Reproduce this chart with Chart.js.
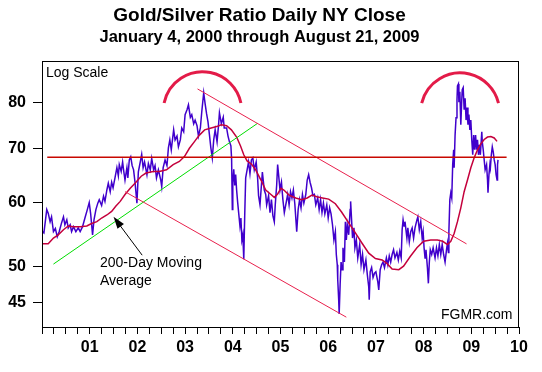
<!DOCTYPE html>
<html><head><meta charset="utf-8">
<script src="https://cdn.jsdelivr.net/npm/chart.js@4.4.1/dist/chart.umd.min.js"></script>
<style>html,body{margin:0;padding:0;background:#fff}</style>
</head><body>
<canvas id="c" width="542" height="372"></canvas>
<script>
// ---- Gold/Silver ratio, daily NY close, decimal years ----
const ratioYears = [
 2000.01,2000.04,2000.10,2000.13,2000.17,2000.20,2000.24,2000.28,2000.32,2000.36,2000.41,2000.45,2000.48,2000.52,2000.55,2000.59,2000.62,2000.66,2000.71,2000.76,2000.80,2000.85,2000.90,2000.95,2000.99,
 2001.02,2001.06,2001.09,2001.13,2001.17,2001.20,2001.25,2001.29,2001.32,2001.36,2001.39,2001.43,2001.46,2001.49,2001.53,2001.57,2001.60,2001.62,2001.66,2001.69,2001.71,2001.74,2001.78,2001.80,2001.83,2001.86,2001.89,2001.92,2001.95,2001.99,
 2002.02,2002.06,2002.09,2002.12,2002.15,2002.20,2002.23,2002.27,2002.30,2002.34,2002.37,2002.40,2002.44,2002.49,2002.51,2002.54,2002.58,2002.62,2002.65,2002.68,2002.71,2002.76,2002.79,2002.83,2002.86,2002.90,2002.93,2002.97,
 2003.00,2003.04,2003.07,2003.11,2003.14,2003.18,2003.21,2003.25,2003.28,2003.32,2003.35,2003.39,2003.42,2003.45,2003.48,2003.51,2003.54,2003.57,2003.60,2003.63,2003.67,2003.70,2003.72,2003.76,2003.80,2003.82,2003.87,2003.90,2003.93,2003.96,2003.975,2003.99,
 2004.00,2004.02,2004.04,2004.06,2004.08,2004.10,2004.12,2004.15,2004.17,2004.19,2004.21,2004.23,2004.25,2004.27,2004.30,2004.33,2004.36,2004.39,2004.42,2004.45,2004.49,2004.52,2004.54,2004.57,2004.60,2004.62,2004.66,2004.69,2004.71,2004.75,2004.78,2004.81,2004.84,2004.87,2004.89,2004.92,2004.94,2004.96,2004.99,
 2005.02,2005.05,2005.08,2005.11,2005.15,2005.18,2005.21,2005.24,2005.27,2005.30,2005.34,2005.37,2005.40,2005.43,2005.46,2005.49,2005.53,2005.56,2005.59,2005.62,2005.65,2005.68,2005.71,2005.74,2005.78,2005.81,2005.84,2005.87,2005.90,2005.93,2005.97,
 2006.00,2006.03,2006.06,2006.09,2006.12,2006.15,2006.17,2006.19,2006.20,2006.22,2006.23,2006.25,2006.27,2006.29,2006.31,2006.34,2006.36,2006.38,2006.40,2006.43,2006.46,2006.47,2006.49,2006.51,2006.54,2006.56,2006.59,2006.62,2006.66,2006.69,2006.72,2006.75,2006.79,2006.82,2006.85,2006.86,2006.88,2006.91,2006.94,2006.97,
 2007.00,2007.04,2007.06,2007.09,2007.12,2007.15,2007.18,2007.22,2007.25,2007.28,2007.31,2007.34,2007.37,2007.40,2007.44,2007.47,2007.50,2007.53,2007.55,2007.57,2007.59,2007.61,2007.65,2007.67,2007.70,2007.73,2007.76,2007.79,2007.82,2007.86,2007.88,2007.91,2007.94,2007.97,2007.99,
 2008.01,2008.03,2008.05,2008.08,2008.10,2008.12,2008.14,2008.17,2008.20,2008.24,2008.27,2008.30,2008.33,2008.36,2008.39,2008.42,2008.45,2008.48,2008.50,2008.52,2008.53,2008.55,2008.57,2008.59,2008.61,2008.63,2008.64,2008.66,2008.68,2008.70,2008.71,2008.73,2008.74,2008.76,2008.78,2008.80,2008.81,2008.83,2008.85,2008.87,2008.89,2008.91,2008.93,2008.95,2008.97,2008.99,
 2009.01,2009.03,2009.05,2009.07,2009.09,2009.11,2009.13,2009.15,2009.17,2009.19,2009.22,2009.23,2009.25,2009.27,2009.29,2009.32,2009.34,2009.35,2009.37,2009.39,2009.40,2009.42,2009.44,2009.46,2009.48,2009.50,2009.52,2009.54,2009.55,2009.56
];
const ratioValues = [
 55.2,55.0,58.8,58.2,56.8,57.6,55.2,55.7,54.4,55.2,56.6,57.6,56.3,57.1,55.8,56.3,55.2,56.0,55.2,55.8,55.2,56.0,57.4,58.8,60.0,
 58.1,54.7,57.1,58.8,59.9,60.5,59.5,61.1,60.2,62.2,63.4,61.9,63.6,62.6,64.4,66.3,64.8,66.9,65.6,67.4,65.9,64.0,66.3,64.4,67.8,68.4,66.7,65.9,63.6,59.9,
 65.5,67.4,68.9,66.3,67.4,65.0,67.1,65.9,68.1,65.9,66.7,64.4,65.9,64.0,62.8,66.3,67.8,66.7,70.2,71.8,69.8,73.9,71.8,72.6,70.4,71.8,74.3,73.5,
 77.2,78.3,79.4,76.6,77.2,75.2,76.0,74.8,72.6,74.3,77.9,82.2,79.6,77.4,75.6,72.9,70.2,68.2,71.8,73.9,71.4,74.8,77.6,75.2,76.6,74.3,74.3,72.6,71.4,70.6,68.0,58.8,
 63.5,66.0,63.0,65.0,62.2,60.2,58.5,56.1,57.4,53.9,54.7,51.0,57.9,64.4,65.9,67.4,65.2,67.8,68.2,65.9,67.4,64.4,61.2,59.6,63.1,65.5,62.2,61.4,59.6,61.2,58.3,60.5,57.8,56.8,59.6,63.1,66.9,65.0,62.2,
 63.6,60.5,58.3,59.6,61.4,59.6,61.9,60.8,62.2,59.8,55.2,58.8,60.5,59.1,61.4,59.9,61.4,64.0,65.0,63.6,62.6,61.2,61.4,59.6,60.8,58.8,60.5,58.3,59.9,58.1,59.6,
 57.4,59.1,58.1,56.3,53.9,55.2,51.7,50.2,48.1,45.4,43.6,47.4,50.6,49.5,52.7,50.6,56.8,53.9,56.3,54.7,58.8,60.2,57.1,54.2,55.8,52.7,53.9,51.2,53.2,50.2,51.7,49.5,50.9,48.8,47.1,45.4,49.2,49.8,48.4,49.0,
 49.2,47.8,46.7,49.5,50.2,50.6,49.8,51.2,50.2,51.5,50.6,51.7,52.4,51.2,52.0,50.9,52.2,51.2,55.5,57.1,56.1,56.8,54.2,55.8,53.6,55.2,55.8,54.2,55.8,57.1,57.6,55.5,56.8,54.2,55.2,
 52.7,51.2,52.4,49.8,47.6,50.6,52.4,51.7,52.7,51.2,52.7,51.5,53.2,51.7,53.2,51.7,50.6,52.4,53.4,52.0,55.2,60.5,61.7,60.8,66.9,69.8,66.3,72.8,76.5,80.5,83.8,84.3,80.0,82.4,75.0,80.5,82.9,83.4,78.3,80.9,76.0,78.8,75.0,77.2,73.9,76.0,
 71.8,68.8,72.8,69.8,72.8,69.8,71.8,68.8,70.8,68.8,73.5,71.4,69.8,67.8,65.9,66.9,64.0,61.7,65.0,66.9,66.3,68.8,70.4,69.4,67.8,66.9,65.0,64.0,66.9,67.8
];
// ---- 200-day moving average ----
const maYears = [
 2000.01,2000.13,2000.24,2000.34,2000.45,2000.55,2000.66,2000.80,2000.94,
 2001.04,2001.15,2001.25,2001.36,2001.46,2001.55,2001.64,2001.74,2001.85,2001.95,
 2002.08,2002.18,2002.33,2002.46,2002.61,2002.75,2002.88,2002.99,
 2003.09,2003.20,2003.30,2003.41,2003.51,2003.66,2003.76,2003.87,2003.97,
 2004.08,2004.16,2004.23,2004.30,2004.39,2004.48,2004.59,2004.69,2004.80,2004.87,2004.94,
 2005.01,2005.07,2005.18,2005.32,2005.44,2005.56,2005.66,2005.76,2005.88,
 2006.01,2006.15,2006.28,2006.43,2006.57,2006.71,2006.85,2006.99,
 2007.13,2007.23,2007.34,2007.48,2007.58,2007.72,2007.86,
 2008.00,2008.15,2008.29,2008.40,2008.50,2008.57,2008.64,2008.71,2008.78,2008.85,2008.92,2008.99,
 2009.06,2009.13,2009.20,2009.27,2009.34,2009.41,2009.48,2009.54
];
const maValues = [
 53.3,53.3,54.2,54.7,55.5,56.1,56.0,56.0,56.1,
 56.5,56.8,57.4,57.9,58.5,59.4,60.2,61.4,62.5,63.4,
 64.7,65.3,65.6,65.6,65.9,66.9,67.5,68.5,
 70.1,71.5,72.8,73.9,74.2,74.6,75.0,74.8,73.9,
 72.4,70.6,68.8,67.6,67.0,65.9,64.0,62.2,61.4,60.9,61.5,
 62.5,62.2,61.3,60.8,60.5,60.8,61.3,61.0,60.8,
 60.6,59.8,58.4,56.6,55.0,53.4,51.9,51.1,
 50.9,50.4,49.6,49.5,50.0,51.4,52.7,
 53.7,53.9,53.9,53.7,53.2,53.7,54.9,56.8,59.1,61.9,64.0,66.3,
 68.2,69.8,71.0,71.9,72.4,72.5,72.2,71.5
];
// ---- trend lines (year, ratio) ----
const supportYears = [2000.24, 2004.52], supportValues = [50.3, 75.3];
const upperYears   = [2003.26, 2008.90], upperValues   = [83.1, 53.3];
const lowerYears   = [2001.74, 2006.38], lowerValues   = [61.9, 43.2];
const levelYears   = [2000.11, 2009.74], levelValues   = [68.3, 68.3];
// ---- axes ----
const yTicks = [45, 50, 60, 70, 80];
const xTickYears  = [2001,2002,2003,2004,2005,2006,2007,2008,2009,2010];
const xTickLabels = ['01','02','03','04','05','06','07','08','09','10'];
// ---- annotations (year / ratio anchored) ----
const arcSpans = [[2002.56, 2004.17], [2007.96, 2009.57]];
const arcBase = [79.8, 79.8], arcApex = [87.3, 87.0];
const arrowTail = [2002.10, 51.6], arrowTip = [2001.50, 57.6];

const FONT = '"Liberation Sans", Arial, Helvetica, sans-serif';
const pts = (xs, ys) => xs.map((x, i) => ({x, y: ys[i]}));
const quarterTicks = [];
for (let i = 0; i <= 40; i++) quarterTicks.push({value: 2000 + i * 0.25});

const annot = {
  id: 'annot',
  afterDatasetsDraw(chart) {
    const {ctx, chartArea: a, scales: {x, y}} = chart;
    ctx.save();
    // frame
    ctx.strokeStyle = '#000'; ctx.lineWidth = 1;
    ctx.strokeRect(Math.round(a.left) + 0.5, Math.round(a.top) + 0.5,
                   Math.round(a.right) - Math.round(a.left) - 1, Math.round(a.bottom) - Math.round(a.top));
    // arcs
    arcSpans.forEach((sp, i) => {
      const x1 = x.getPixelForValue(sp[0]), x2 = x.getPixelForValue(sp[1]);
      const yb = y.getPixelForValue(arcBase[i]), ya = y.getPixelForValue(arcApex[i]);
      const h = (x2 - x1) / 2, s = yb - ya, r = (h * h + s * s) / (2 * s);
      const cx = (x1 + x2) / 2, cy = ya + r;
      ctx.beginPath();
      ctx.arc(cx, cy, r, Math.atan2(yb - cy, x1 - cx), Math.atan2(yb - cy, x2 - cx), false);
      ctx.strokeStyle = '#E31B48'; ctx.lineWidth = 3; ctx.stroke();
    });
    // arrow
    const tx = x.getPixelForValue(arrowTail[0]), ty = y.getPixelForValue(arrowTail[1]);
    const hx = x.getPixelForValue(arrowTip[0]), hy = y.getPixelForValue(arrowTip[1]);
    const ang = Math.atan2(hy - ty, hx - tx), L = 12, W = 4;
    ctx.strokeStyle = '#000'; ctx.fillStyle = '#000'; ctx.lineWidth = 1;
    ctx.beginPath(); ctx.moveTo(tx, ty);
    ctx.lineTo(hx - L * 0.8 * Math.cos(ang), hy - L * 0.8 * Math.sin(ang)); ctx.stroke();
    ctx.beginPath(); ctx.moveTo(hx, hy);
    ctx.lineTo(hx - L * Math.cos(ang) + W * Math.sin(ang), hy - L * Math.sin(ang) - W * Math.cos(ang));
    ctx.lineTo(hx - L * Math.cos(ang) - W * Math.sin(ang), hy - L * Math.sin(ang) + W * Math.cos(ang));
    ctx.closePath(); ctx.fill();
    // texts
    ctx.font = '14px ' + FONT; ctx.textBaseline = 'middle'; ctx.fillStyle = '#000';
    ctx.textAlign = 'left';
    ctx.fillText('Log Scale', a.left + 4, a.top + 12.5);
    ctx.fillText('200-Day Moving', a.left + 58, a.top + 202.5);
    ctx.fillText('Average', a.left + 58, a.top + 220);
    ctx.textAlign = 'right';
    ctx.fillText('FGMR.com', a.right - 6.5, a.bottom - 12);
    ctx.restore();
  }
};

const line = (data, color, width, order) => ({data, borderColor: color, borderWidth: width,
  pointRadius: 0, tension: 0, fill: false, order});

new Chart(document.getElementById('c'), {
  type: 'line',
  data: { datasets: [
    line(pts(ratioYears, ratioValues), '#4000CC', 1.5, 5),
    line(pts(maYears, maValues), '#C4003C', 1.5, 4),
    line(pts(supportYears, supportValues), '#00DD00', 1, 3),
    line(pts(upperYears, upperValues), '#E8204C', 1, 2),
    line(pts(lowerYears, lowerValues), '#E8204C', 1, 2),
    line(pts(levelYears, levelValues), '#C80800', 1.5, 1)
  ]},
  options: {
    responsive: false, animation: false, devicePixelRatio: 1,
    layout: { padding: { left: 0, right: 23, top: 0, bottom: 0 } },
    plugins: {
      legend: { display: false }, tooltip: { enabled: false },
      title: { display: true, text: 'Gold/Silver Ratio Daily NY Close', color: '#000',
        font: { family: FONT, size: 19, weight: 'bold' }, padding: { top: 4.5, bottom: 0 } },
      subtitle: { display: true, text: 'January 4, 2000 through August 21, 2009', color: '#000',
        font: { family: FONT, size: 16.5, weight: 'bold' }, padding: { top: 0, bottom: 14 } }
    },
    scales: {
      x: {
        type: 'linear', min: 2000, max: 2010,
        afterBuildTicks: s => { s.ticks = quarterTicks.map(t => ({value: t.value})); },
        afterFit: s => { s.height = 45; },
        ticks: { autoSkip: false, maxRotation: 0, minRotation: 0, color: '#000', padding: 4,
          font: { family: FONT, size: 16, weight: 'bold' },
          callback: v => { const i = xTickYears.findIndex(yv => Math.abs(yv - v) < 1e-6); return i >= 0 ? xTickLabels[i] : ''; } },
        grid: { drawOnChartArea: false, drawTicks: true, tickLength: 7, color: '#000' },
        border: { display: true, color: '#000', width: 1 }
      },
      y: {
        type: 'logarithmic', min: 42, max: 90,
        afterBuildTicks: s => { s.ticks = yTicks.map(v => ({value: v})); },
        afterFit: s => { s.width = 42; },
        ticks: { color: '#000', padding: 7, font: { family: FONT, size: 16, weight: 'bold' },
          callback: v => String(v) },
        grid: { drawOnChartArea: false, drawTicks: true, tickLength: 9, color: '#000' },
        border: { display: true, color: '#000', width: 1 }
      }
    }
  },
  plugins: [annot]
});
</script>
</body></html>
